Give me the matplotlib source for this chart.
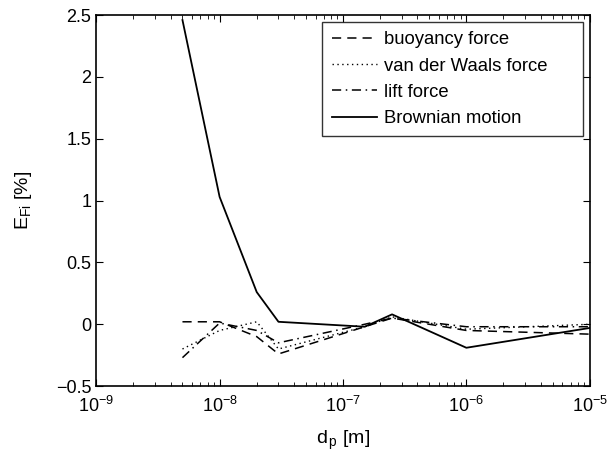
import matplotlib
matplotlib.use('Agg')
import matplotlib.pyplot as plt

plt.rcParams['font.family'] = ['Liberation Sans', 'DejaVu Sans']
plt.rcParams['mathtext.fontset'] = 'custom'
plt.rcParams['mathtext.rm'] = 'Liberation Sans'
plt.rcParams['mathtext.it'] = 'Liberation Sans'

# particle diameter [m]
d_p = [5e-9, 1e-8, 2e-8, 3e-8, 1.5e-7, 2.5e-7, 1e-6, 1e-5]

# relative error [%]
buoyancy = [0.02, 0.02, -0.10, -0.24, -0.02, 0.05, -0.05, -0.08]
van_der_waals = [-0.20, -0.05, 0.02, -0.20, -0.02, 0.06, -0.04, 0.00]
lift = [-0.27, 0.01, -0.05, -0.15, 0.00, 0.05, -0.02, -0.02]
brownian = [2.46, 1.03, 0.26, 0.02, -0.02, 0.08, -0.19, -0.03]

fig = plt.figure(figsize=(6.13, 4.58), dpi=100)
ax = fig.add_axes([0.157, 0.157, 0.805, 0.810])

ax.plot(d_p, buoyancy, color='black', linestyle=(0, (6, 4)), linewidth=1.1, label='buoyancy force')
# trailing spaces widen the legend box like the original
ax.plot(d_p, van_der_waals, color='black', linestyle=(0, (1, 2.5)), linewidth=1.0,
        label='van der Waals force     ')
ax.plot(d_p, lift, color='black', linestyle=(0, (6, 3, 1, 3)), linewidth=1.1, label='lift force')
ax.plot(d_p, brownian, color='black', linestyle='-', linewidth=1.3, label='Brownian motion')

ax.set_xscale('log')
ax.set_xlim(1e-9, 1e-5)
ax.set_ylim(-0.5, 2.5)
ax.set_yticks([-0.5, 0, 0.5, 1, 1.5, 2, 2.5])
ax.set_yticklabels(['\u22120.5', '0', '0.5', '1', '1.5', '2', '2.5'])

ax.tick_params(which='both', direction='in', top=True, right=True, labelsize=13)
ax.tick_params(axis='x', pad=7)
ax.tick_params(which='major', length=5)
ax.tick_params(which='minor', length=3)
for s in ax.spines.values():
    s.set_linewidth(1.2)

ax.set_xlabel(r'd$_{\,\mathrm{p}}$ [m]', fontsize=14, labelpad=9)
ax.set_ylabel(r'E$_\mathrm{Fi}$ [%]', fontsize=14, labelpad=16)

leg = ax.legend(loc='upper right', fontsize=13.3, frameon=True, fancybox=False,
                edgecolor='black', handlelength=2.45, handletextpad=0.4,
                borderpad=0.5, borderaxespad=0.38, labelspacing=0.5)
leg.get_frame().set_linewidth(1)

fig.savefig('out.png', dpi=100)
